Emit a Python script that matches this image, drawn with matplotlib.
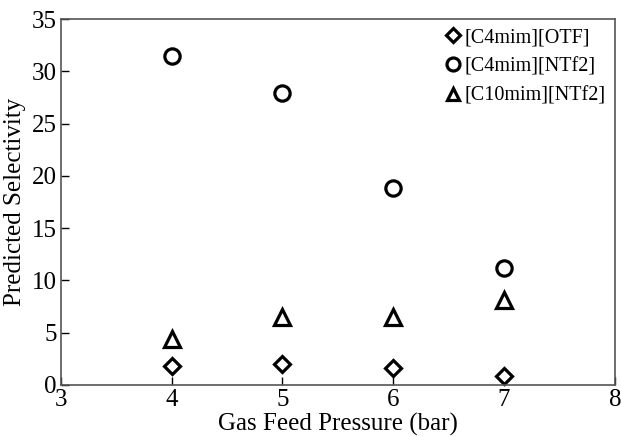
import matplotlib
matplotlib.use("Agg")
import matplotlib.pyplot as plt

plt.rcParams["font.family"] = ["Liberation Serif", "DejaVu Serif"]

pressure = [4, 5, 6, 7]
sel_c4_otf = [1.8, 2.0, 1.6, 0.9]
sel_c4_ntf2 = [31.5, 27.9, 18.8, 11.2]
sel_c10_ntf2 = [4.4, 6.5, 6.5, 8.1]

fig, ax = plt.subplots(figsize=(6.21, 4.36), dpi=100)
fig.subplots_adjust(left=0.098, right=0.99, top=0.956, bottom=0.117)

style = dict(linestyle="none", markerfacecolor="white", markeredgecolor="black",
             markeredgewidth=2.3, clip_on=False)
ax.plot(pressure, sel_c4_otf, marker="D", markersize=8, label="[C4mim][OTF]", **style)
ax.plot(pressure, sel_c4_ntf2, marker="o", markersize=11, label="[C4mim][NTf2]", **style)
ax.plot(pressure, sel_c10_ntf2, marker="^", markersize=11, label="[C10mim][NTf2]", **style)

ax.set_xlim(3, 8)
ax.set_ylim(0, 35)
ax.set_xticks(range(3, 9))
ax.set_yticks(range(0, 36, 5))
ax.tick_params(direction="in", length=6, width=1, labelsize=18, colors="black", pad=3)
for s in ax.spines.values():
    s.set_linewidth(1.2)
    s.set_color("#555555")

ax.set_xlabel("Gas Feed Pressure (bar)", fontsize=18, labelpad=1)
ax.set_ylabel("Predicted Selectivity", fontsize=18, labelpad=4)

leg = ax.legend(loc="upper right", frameon=False, fontsize=14.5, handletextpad=0.1,
                markerscale=0.85, labelspacing=0.5, borderaxespad=0.05, handlelength=1.0,
                borderpad=0.4)

fig.savefig("out.png", dpi=100)
